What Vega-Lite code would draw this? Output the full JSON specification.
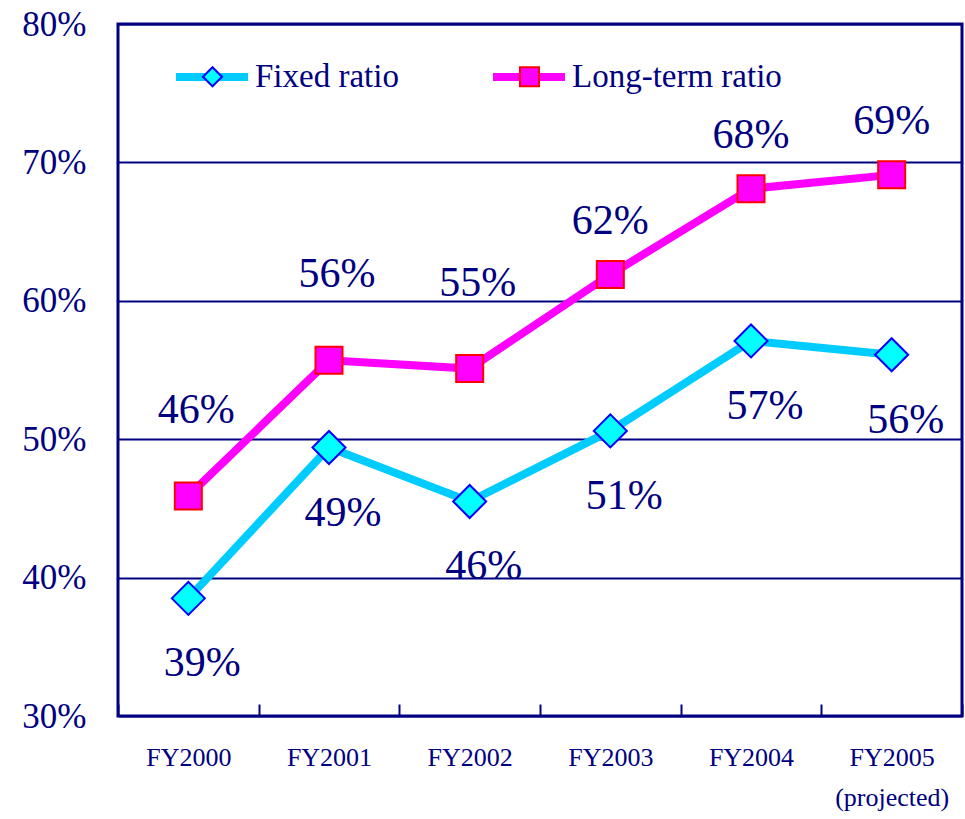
{
  "$schema": "https://vega.github.io/schema/vega-lite/v6.json",
  "width": 844,
  "height": 692,
  "autosize": "none",
  "padding": {"left": 118, "top": 24, "right": 3, "bottom": 103},
  "background": "white",
  "config": {
    "font": "Times New Roman",
    "view": {"stroke": "#000080", "strokeWidth": 3},
    "axis": {"labelColor": "#000080", "labelFont": "Times New Roman", "domain": false},
    "legend": {"labelFont": "Times New Roman", "labelFontSize": 33, "padding": 0, "direction": "horizontal", "labelLimit": 500},
    "text": {"font": "Times New Roman"}
  },
  "data": {
    "values": [
      {"year": "FY2000", "series": "Fixed ratio", "value": 0.385, "label": "39%"},
      {"year": "FY2001", "series": "Fixed ratio", "value": 0.494, "label": "49%"},
      {"year": "FY2002", "series": "Fixed ratio", "value": 0.455, "label": "46%"},
      {"year": "FY2003", "series": "Fixed ratio", "value": 0.506, "label": "51%"},
      {"year": "FY2004", "series": "Fixed ratio", "value": 0.571, "label": "57%"},
      {"year": "FY2005", "series": "Fixed ratio", "value": 0.561, "label": "56%"},
      {"year": "FY2000", "series": "Long-term ratio", "value": 0.459, "label": "46%"},
      {"year": "FY2001", "series": "Long-term ratio", "value": 0.557, "label": "56%"},
      {"year": "FY2002", "series": "Long-term ratio", "value": 0.551, "label": "55%"},
      {"year": "FY2003", "series": "Long-term ratio", "value": 0.619, "label": "62%"},
      {"year": "FY2004", "series": "Long-term ratio", "value": 0.681, "label": "68%"},
      {"year": "FY2005", "series": "Long-term ratio", "value": 0.691, "label": "69%"}
    ]
  },
  "encoding": {
    "x": {
      "field": "year", "type": "nominal", "sort": null, "title": null,
      "scale": {"type": "band", "paddingInner": 0, "paddingOuter": 0},
      "axis": {
        "tickBand": "extent", "labelAngle": 0, "labelFontSize": 26, "labelFont": "Times New Roman",
        "tickColor": "#000080", "tickWidth": 2, "tickSize": -12,
        "labelPadding": 40, "grid": false, "labelBaseline": "top", "labelLineHeight": 40,
        "labelExpr": "datum.value == 'FY2005' ? ['FY2005', '(projected)'] : datum.value"
      }
    },
    "y": {
      "field": "value", "type": "quantitative", "title": null,
      "scale": {"domain": [0.3, 0.8], "nice": false, "zero": false},
      "axis": {
        "values": [0.3, 0.4, 0.5, 0.6, 0.7, 0.8], "format": ".0%", "labelFontSize": 35, "labelFont": "Times New Roman",
        "ticks": false, "labelPadding": 32, "grid": true, "gridColor": "#000080",
        "gridWidth": 2, "gridOpacity": 1
      }
    }
  },
  "layer": [
    {
      "mark": {"type": "line", "strokeWidth": 8},
      "encoding": {
        "color": {
          "field": "series", "type": "nominal", "title": null,
          "scale": {"domain": ["Fixed ratio", "Long-term ratio"], "range": ["#00CCFF", "#FF00FF"]},
          "legend": {
            "orient": "top-left", "offset": 13, "symbolType": "stroke", "symbolSize": 5184,
            "symbolStrokeWidth": 8, "labelExpr": "''", "labelOffset": 5,
            "columnPadding": 184, "symbolOffset": 41
          }
        }
      }
    },
    {
      "mark": {"type": "point", "filled": true, "strokeWidth": 2, "opacity": 1},
      "encoding": {
        "shape": {
          "field": "series", "type": "nominal", "title": null,
          "scale": {"range": ["diamond", "square"]},
          "legend": {
            "orient": "none", "legendX": 78, "legendY": 36, "symbolSize": 361,
            "symbolStrokeWidth": 2, "labelColor": "#000080", "labelOffset": 26,
            "columnPadding": 114
          }
        },
        "fill": {
          "field": "series", "type": "nominal", "title": null, "scale": {"range": ["#00FFFF", "#FF00FF"]},
          "legend": {
            "orient": "none", "legendX": 78, "legendY": 36, "symbolSize": 361,
            "symbolStrokeWidth": 2, "labelColor": "#000080", "labelOffset": 26,
            "columnPadding": 114
          }
        },
        "stroke": {
          "field": "series", "type": "nominal", "title": null, "scale": {"range": ["#0000FF", "#FF0000"]},
          "legend": {
            "orient": "none", "legendX": 78, "legendY": 36, "symbolSize": 361,
            "symbolStrokeWidth": 2, "labelColor": "#000080", "labelOffset": 26,
            "columnPadding": 114
          }
        },
        "size": {
          "field": "series", "type": "ordinal",
          "scale": {"domain": ["Long-term ratio", "Fixed ratio"], "range": [729, 1089]},
          "legend": null
        }
      }
    },
    {
      "transform": [{"filter": "datum.series == 'Fixed ratio'"}],
      "mark": {"type": "text", "fontSize": 42, "color": "#000080", "dy": 65, "dx": 14, "font": "Times New Roman"},
      "encoding": {"text": {"field": "label"}}
    },
    {
      "transform": [{"filter": "datum.series == 'Long-term ratio' && indexof(['FY2000','FY2001','FY2002'], datum.year) >= 0"}],
      "mark": {"type": "text", "fontSize": 42, "color": "#000080", "dy": -86, "dx": 8, "font": "Times New Roman"},
      "encoding": {"text": {"field": "label"}}
    },
    {
      "transform": [{"filter": "datum.series == 'Long-term ratio' && indexof(['FY2000','FY2001','FY2002'], datum.year) < 0"}],
      "mark": {"type": "text", "fontSize": 42, "color": "#000080", "dy": -54, "dx": 0, "font": "Times New Roman"},
      "encoding": {"text": {"field": "label"}}
    }
  ]
}
